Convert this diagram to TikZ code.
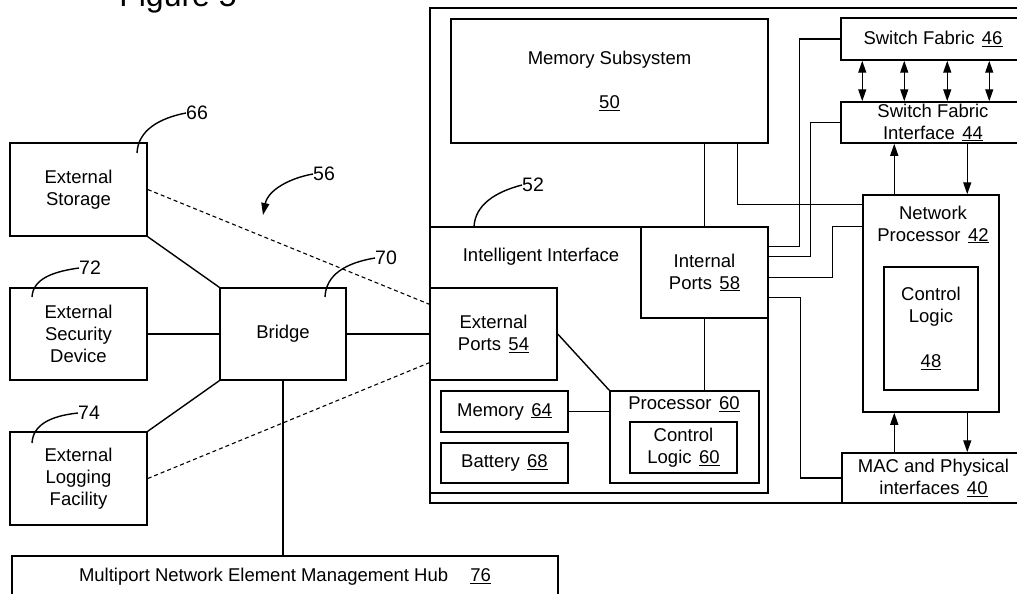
\documentclass[tikz,border=0pt]{standalone}
\usepackage{fontspec}
\setmainfont{Liberation Sans}
\usetikzlibrary{calc,arrows.meta}
\newcommand{\refnum}[1]{\hspace{0.4em}\underline{#1}}
\begin{document}
\begin{tikzpicture}[x=1pt,y=-1pt,
  box/.style={draw, line width=1.5pt, inner sep=0pt, align=center, font=\fontsize{18.5}{22}\selectfont},
  txt/.style={inner sep=0pt, align=center, font=\fontsize{18.5}{22}\selectfont},
  num/.style={inner sep=0pt, anchor=west, font=\fontsize{19.5}{22}\selectfont},
  conn/.style={line width=1.4pt},
  dashlink/.style={line width=1.1pt, dash pattern=on 4pt off 3pt},
  arr/.style={line width=1.4pt, -{Triangle[length=12pt,width=8pt]}},
  darr/.style={line width=1.4pt, {Triangle[length=12pt,width=8pt]}-{Triangle[length=12pt,width=8pt]}},
]
\useasboundingbox (0,0) rectangle (1017,594);

% title (cut by the top edge)
\node[inner sep=0pt, anchor=base, font=\fontsize{32}{36}\selectfont] (title) at (178,7) {Figure 5};

% left side
\node[box, minimum width=137pt, minimum height=93pt] (ES) at (78.5,189.5) {External\\Storage};
\node[box, minimum width=137pt, minimum height=92pt] (ESD) at (78.5,334) {External\\Security\\Device};
\node[box, minimum width=137pt, minimum height=93pt] (ELF) at (78.5,478.5) {External\\Logging\\Facility};
\node[box, minimum width=126pt, minimum height=92pt] (BR) at (283,334) {Bridge};
\node[box, minimum width=546pt, minimum height=42pt] (HUB) at (285,577) {Multiport Network Element Management Hub\hspace{1.2em}\underline{76}};

% chassis
\node[draw, line width=1.6pt, inner sep=0pt, minimum width=605pt, minimum height=495pt] (CH) at (732.5,255.5) {};
\node[box, minimum width=317pt, minimum height=124pt] (MS) at (609.5,81) {Memory Subsystem\\[22pt]\underline{50}};
\node[box, minimum width=184pt, minimum height=42pt] (SF) at (933,39) {Switch Fabric\refnum{46}};
\node[box, minimum width=184pt, minimum height=41pt] (SFI) at (933,122.5) {Switch Fabric\\Interface\refnum{44}};
\node[box, minimum width=136pt, minimum height=217pt] (NP) at (931,303.5) {};
\node[txt] (NPt) at (933,224.5) {Network\\Processor\refnum{42}};
\node[box, minimum width=94pt, minimum height=123pt] (CL48) at (931,328.5) {Control\\Logic\\[23pt]\underline{48}};
\node[box, minimum width=183pt, minimum height=50pt] (MAC) at (933.5,478) {MAC and Physical\\interfaces\refnum{40}};

% intelligent interface
\node[box, minimum width=338pt, minimum height=266pt] (II) at (599,360) {};
\node[txt] (IIt) at (541,257) {Intelligent Interface};
\node[box, minimum width=127pt, minimum height=91pt] (IP) at (704.5,272.5) {Internal\\Ports\refnum{58}};
\node[box, minimum width=127pt, minimum height=92pt] (EP) at (493.5,334) {External\\Ports\refnum{54}};
\node[box, minimum width=127pt, minimum height=41pt] (MEM) at (504.5,411.5) {Memory\refnum{64}};
\node[box, minimum width=127pt, minimum height=40pt] (BAT) at (504.5,463) {Battery\refnum{68}};
\node[box, minimum width=149pt, minimum height=92pt] (PR) at (684.5,437) {};
\node[txt] (PRt) at (684,404) {Processor\refnum{60}};
\node[box, minimum width=107pt, minimum height=51pt] (CL60) at (683.5,447.5) {Control\\Logic\refnum{60}};

% left connectors
\draw[conn] (ES.south east) -- (BR.north west);
\draw[conn] (ESD.east) -- (BR.west);
\draw[conn] (BR.south west) -- (ELF.north east);
\draw[conn] (BR.south) -- (BR.south |- HUB.north);
\draw[conn] (BR.east) -- (EP.west);
\draw[dashlink] (ES.east) -- ($(EP.north west)+(0,17)$);
\draw[dashlink] (ELF.east) -- ($(EP.south west)+(0,-18)$);

% intelligent interface connectors
\draw[conn] (EP.east) -- (PR.north west);
\draw[conn] (MEM.east) -- (MEM.east -| PR.west);
\draw[conn] (IP.south) -- (IP.south |- PR.north);
\draw[conn] (IP.north |- MS.south) -- (IP.north);
\draw[conn] ($(MS.south east)+(-31,0)$) |- ($(NP.north west)+(0,10)$);

% internal ports to the network side
\draw[conn] ($(IP.north east)+(0,20)$) -- ++(31,0) |- (SF.west);
\draw[conn] ($(IP.north east)+(0,30)$) -- ++(42,0) |- (SFI.west);
\draw[conn] ($(IP.north east)+(0,51)$) -- ++(64,0) |- ($(NP.north west)+(0,32)$);
\draw[conn] ($(IP.north east)+(0,71)$) -- ++(32,0) |- (MAC.west);

% switch fabric arrows
\foreach \dx in {22,64,107,149}
  \draw[darr] ($(SF.south west)+(\dx,0)$) -- ($(SFI.north west)+(\dx,0)$);
\draw[arr] ($(NP.north west)+(32,0)$) -- ($(SFI.south west)+(54,0)$);
\draw[arr] ($(SFI.south west)+(127,0)$) -- ($(NP.north west)+(105,0)$);
\draw[arr] ($(MAC.north west)+(53,0)$) -- ($(NP.south west)+(32,0)$);
\draw[arr] ($(NP.south west)+(105,0)$) -- ($(MAC.north west)+(126,0)$);

% reference numerals with leaders
\node[num] (n66) at (186,113) {66};
\coordinate (c66) at (137,153);
\draw[conn] (c66) .. controls (138,130) and (160,118) .. (n66.west);

\node[num] (n56) at (313,174) {56};
\coordinate (c56) at (263,215);
\draw[arr] (n56.west) .. controls (290,178) and (268,190) .. (c56);

\node[num] (n72) at (79,268) {72};
\coordinate (c72) at (32,297);
\draw[conn] (c72) .. controls (33,280) and (50,272) .. (n72.west);

\node[num] (n70) at (375,258) {70};
\coordinate (c70) at (325,297);
\draw[conn] (c70) .. controls (326,275) and (345,263) .. (n70.west);

\node[num] (n74) at (78,413) {74};
\coordinate (c74) at (32,443);
\draw[conn] (c74) .. controls (33,425) and (50,416) .. (n74.west);

\node[num] (n52) at (522,185) {52};
\coordinate (c52) at (474,227);
\draw[conn] (c52) .. controls (475,205) and (495,192) .. (n52.west);
\end{tikzpicture}
\end{document}
